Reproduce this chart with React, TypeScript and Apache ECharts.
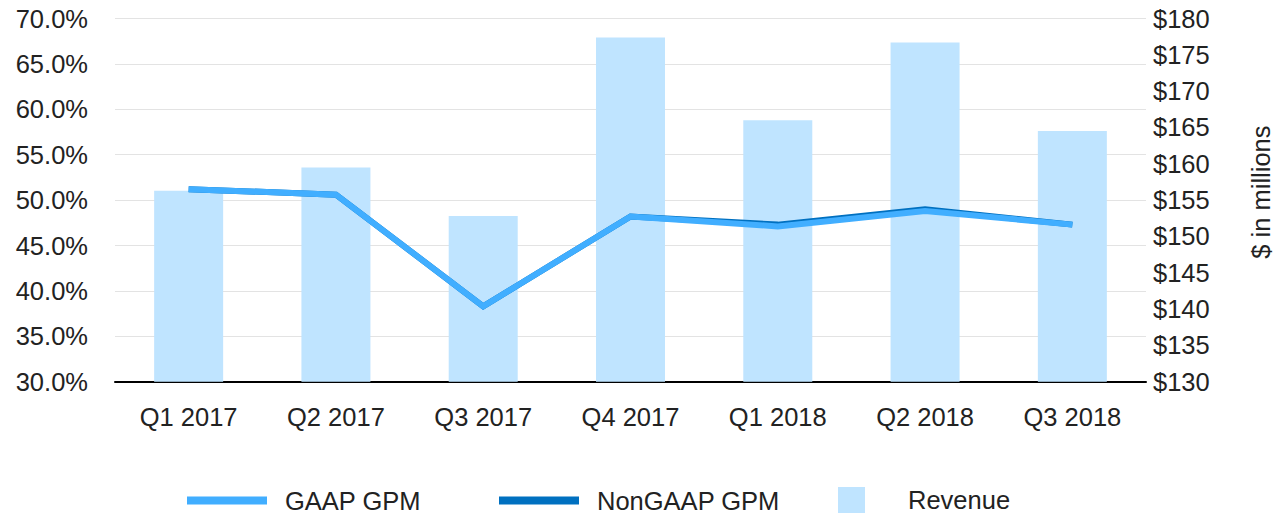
import React, { useEffect, useRef } from "react";
import * as echarts from "echarts";

const categories = ["Q1 2017", "Q2 2017", "Q3 2017", "Q4 2017", "Q1 2018", "Q2 2018", "Q3 2018"];
const revenue = [156.3, 159.5, 152.8, 177.4, 166.0, 176.7, 164.5];
const gaapGpm = [51.2, 50.6, 38.3, 48.2, 47.1, 48.8, 47.3];
const nonGaapGpm = [51.2, 50.6, 38.3, 48.2, 47.3, 49.0, 47.3];

const FONT = "'Liberation Sans', Arial, sans-serif";
const TEXT = "#222222";
const FS = 25.5;

export default function App() {
  const ref = useRef<HTMLDivElement>(null);
  useEffect(() => {
    if (!ref.current) return;
    const chart = echarts.init(ref.current, undefined, { renderer: "svg" });
    const legendText = (padLeft: number) => ({
      fontFamily: FONT,
      fontSize: FS,
      lineHeight: 24,
      color: TEXT,
      padding: [0, 0, 0, padLeft],
    });
    chart.setOption({
      animation: false,
      backgroundColor: "#ffffff",
      textStyle: { fontFamily: FONT },
      grid: {
        left: 115,
        right: 130,
        top: 18.5,
        bottom: 131.3,
        containLabel: false,
        outerBoundsMode: "none",
      },
      legend: [
        {
          data: ["GAAP GPM"],
          left: 182,
          top: 482.5,
          icon: "rect",
          itemWidth: 80,
          itemHeight: 8,
          selectedMode: false,
          textStyle: legendText(13),
        },
        {
          data: ["NonGAAP GPM"],
          left: 494,
          top: 482.5,
          icon: "rect",
          itemWidth: 80,
          itemHeight: 8,
          selectedMode: false,
          textStyle: legendText(13),
        },
        {
          data: ["Revenue"],
          left: 833,
          top: 482,
          icon: "rect",
          itemWidth: 27,
          itemHeight: 26,
          selectedMode: false,
          textStyle: legendText(38),
        },
      ],
      xAxis: {
        type: "category",
        data: categories,
        axisLine: { show: true, lineStyle: { color: "#000000", width: 2 } },
        axisTick: { show: false },
        axisLabel: { fontFamily: FONT, fontSize: FS, color: TEXT, margin: 22 },
      },
      yAxis: [
        {
          type: "value",
          min: 30,
          max: 70,
          interval: 5,
          axisLine: { show: false },
          axisTick: { show: false },
          axisLabel: {
            fontFamily: FONT,
            fontSize: FS,
            color: TEXT,
            margin: 27,
            formatter: (v: number) => `${v.toFixed(1)}%`,
          },
          splitLine: { show: true, lineStyle: { color: "#e3e3e3", width: 1 } },
        },
        {
          type: "value",
          min: 130,
          max: 180,
          interval: 5,
          position: "right",
          axisLine: { show: false },
          axisTick: { show: false },
          splitLine: { show: false },
          axisLabel: {
            fontFamily: FONT,
            fontSize: FS,
            color: TEXT,
            margin: 7,
            formatter: (v: number) => `$${v}`,
          },
          name: "$ in millions",
          nameLocation: "middle",
          nameRotate: 90,
          nameGap: 104,
          nameTextStyle: {
            fontFamily: FONT,
            fontSize: FS,
            lineHeight: 22,
            color: TEXT,
            padding: [0, 0, 0, 16],
          },
        },
      ],
      series: [
        {
          name: "Revenue",
          type: "bar",
          yAxisIndex: 1,
          data: revenue,
          barWidth: 69,
          color: "#bfe4ff",
          itemStyle: { color: "#bfe4ff" },
        },
        {
          name: "NonGAAP GPM",
          type: "line",
          yAxisIndex: 0,
          data: nonGaapGpm,
          color: "#0070c0",
          symbol: "none",
          lineStyle: { color: "#0070c0", width: 6, join: "miter" },
        },
        {
          name: "GAAP GPM",
          type: "line",
          yAxisIndex: 0,
          data: gaapGpm,
          color: "#41aeff",
          symbol: "none",
          lineStyle: { color: "#41aeff", width: 6, join: "miter" },
        },
      ],
    });
    return () => chart.dispose();
  }, []);
  return (
    <div
      ref={ref}
      style={{ position: "fixed", left: 0, top: 0, width: 1276, height: 513, background: "#fff" }}
    />
  );
}
